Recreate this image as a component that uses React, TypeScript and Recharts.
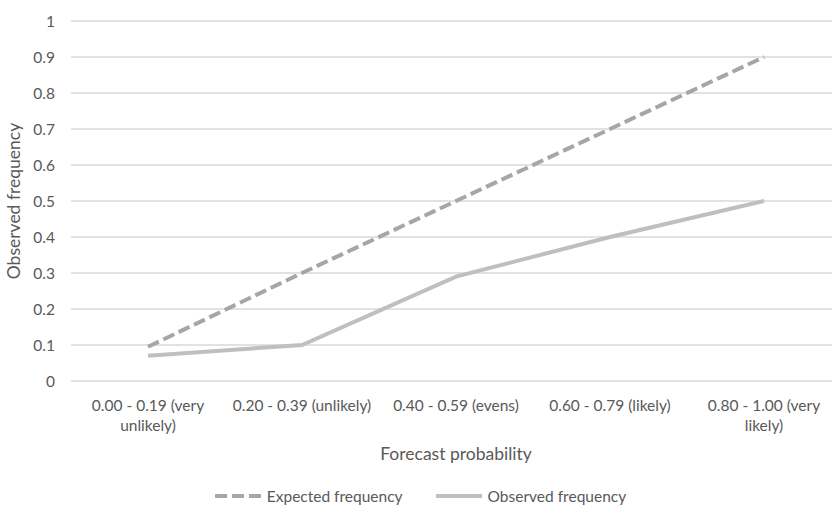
import { LineChart, Line, XAxis, YAxis, CartesianGrid, Legend, Text } from 'recharts'

const categories = [
  '0.00 - 0.19 (very unlikely)',
  '0.20 - 0.39 (unlikely)',
  '0.40 - 0.59 (evens)',
  '0.60 - 0.79 (likely)',
  '0.80 - 1.00 (very likely)',
]
const expectedFrequency = [0.095, 0.3, 0.5, 0.7, 0.9]
const observedFrequency = [0.07, 0.1, 0.29, 0.4, 0.5]
const yTicks = [0, 0.1, 0.2, 0.3, 0.4, 0.5, 0.6, 0.7, 0.8, 0.9, 1]

const data = categories.map((name, i) => ({
  name,
  expected: expectedFrequency[i],
  observed: observedFrequency[i],
}))

const font = 'Lato, "Open Sans", sans-serif'
const textColor = '#595959'

function CategoryTick(props: any) {
  const { x, y, payload } = props
  return (
    <Text
      x={x}
      y={y}
      width={150}
      lineHeight={20}
      textAnchor="middle"
      verticalAnchor="start"
      fill={textColor}
      style={{ fontFamily: font, fontSize: 15.5 }}
    >
      {payload.value}
    </Text>
  )
}

function LegendContent(props: any) {
  const items = props.payload || []
  return (
    <div
      style={{
        display: 'flex',
        justifyContent: 'center',
        gap: 33,
        fontFamily: font,
        fontSize: 15.5,
        color: textColor,
        lineHeight: '20px',
        height: 20,
      }}
    >
      {items.map((item: any) => (
        <span key={item.value} style={{ display: 'flex', alignItems: 'center', gap: 6 }}>
          <svg width={46} height={10}>
            <line
              x1={0}
              y1={5}
              x2={46}
              y2={5}
              stroke={item.color}
              strokeWidth={4}
              strokeDasharray={item.payload?.strokeDasharray}
            />
          </svg>
          {item.value}
        </span>
      ))}
    </div>
  )
}

export default function App() {
  return (
    <div style={{ position: 'absolute', left: 0, top: 0, width: 832, height: 508, overflow: 'hidden', background: '#fff' }}>
      <LineChart width={845} height={508} data={data} margin={{ top: 21, right: 4, left: 0, bottom: 0 }}>
        <CartesianGrid vertical={false} stroke="#d9d9d9" strokeWidth={1.3} />
        <XAxis
          dataKey="name"
          axisLine={false}
          tickLine={false}
          height={90}
          tickMargin={13}
          interval={0}
          padding={{ left: 77, right: 77 }}
          tick={<CategoryTick />}
          label={{
            value: 'Forecast probability',
            position: 'insideBottom',
            offset: 11,
            fill: textColor,
            style: { fontFamily: font, fontSize: 17.5 },
          }}
        />
        <YAxis
          domain={[0, 1]}
          ticks={yTicks}
          axisLine={false}
          tickLine={false}
          width={71}
          tickMargin={10}
          tick={{ fill: textColor, fontSize: 15.5, fontFamily: font }}
          label={{
            value: 'Observed frequency',
            angle: -90,
            position: 'insideLeft',
            offset: 14,
            fill: textColor,
            style: { textAnchor: 'middle', fontFamily: font, fontSize: 17.5 },
          }}
        />
        <Legend verticalAlign="bottom" height={37} wrapperStyle={{ top: 486 }} content={<LegendContent />} />
        <Line
          name="Expected frequency"
          dataKey="expected"
          stroke="#a6a6a6"
          strokeWidth={4}
          strokeDasharray="12 5"
          dot={false}
          isAnimationActive={false}
        />
        <Line
          name="Observed frequency"
          dataKey="observed"
          stroke="#bfbfbf"
          strokeWidth={4}
          dot={false}
          isAnimationActive={false}
        />
      </LineChart>
    </div>
  )
}
